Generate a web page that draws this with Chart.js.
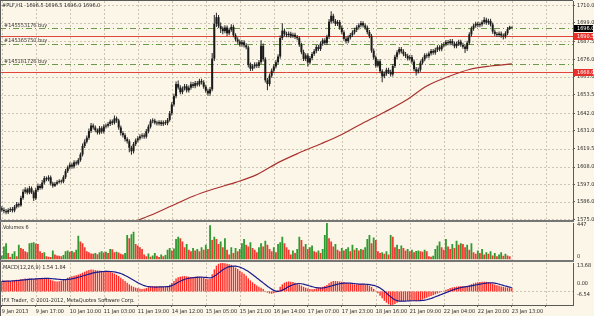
<!DOCTYPE html>
<html><head><meta charset="utf-8">
<script src="https://cdn.jsdelivr.net/npm/chart.js@4.4.1/dist/chart.umd.min.js"></script>
<style>
html,body{margin:0;padding:0;background:#fcf6e8;}
#wrap{position:relative;width:594px;height:316px;overflow:hidden;background:#fcf6e8;}
canvas{position:absolute;left:0;}
</style></head><body>
<div id="wrap">
<canvas id="cMain" width="594" height="222" style="top:0px"></canvas>
<canvas id="cVol" width="594" height="40" style="top:222px"></canvas>
<canvas id="cMacd" width="594" height="54" style="top:262px"></canvas>
</div>
<script>
// ---------- DATA ----------
const symbolTitle = '#PLF,H1';
const xTickLabels = ['9 Jan 2013','9 Jan 17:00','10 Jan 10:00','11 Jan 03:00','11 Jan 19:00','14 Jan 12:00','15 Jan 05:00','15 Jan 21:00','16 Jan 14:00','17 Jan 07:00','17 Jan 23:00','18 Jan 16:00','21 Jan 09:00','22 Jan 04:00','22 Jan 20:00','23 Jan 13:00'];
const xTickBars = [0,16,32,48,64,80,96,112,128,144,160,176,192,208,224,240,256];
const priceTicks = [1710.0,1699.0,1687.5,1676.0,1665.0,1653.5,1642.0,1631.0,1619.5,1608.0,1597.0,1586.0,1575.0];
const volTickLabels = ['447','0'];
const macdTickLabels = ['13.68','0.00','-6.54'];

const opens = [
1582.0,1581.0,1580.2,1579.5,1580.8,1581.5,1580.6,1582.9,1584.6,1583.8,
1588.5,1592.4,1593.8,1591.9,1594.6,1592.0,1588.3,1593.5,1596.1,1594.8,
1598.2,1601.0,1600.2,1601.5,1597.6,1596.2,1597.4,1598.5,1599.1,1598.8,
1601.6,1605.4,1607.8,1609.5,1608.3,1611.0,1610.2,1612.4,1615.9,1621.3,
1624.0,1626.5,1630.8,1634.2,1633.0,1631.2,1629.8,1632.5,1630.4,1633.6,
1634.1,1635.2,1636.8,1635.9,1638.7,1637.4,1633.0,1629.5,1628.1,1625.6,
1624.3,1620.2,1618.0,1622.5,1624.8,1626.1,1627.4,1628.0,1627.2,1630.6,
1633.5,1636.9,1637.3,1636.0,1635.5,1636.4,1635.1,1636.2,1635.7,1637.8,
1641.9,1647.5,1652.8,1660.4,1658.2,1655.3,1657.6,1659.0,1656.4,1658.1,
1660.3,1659.2,1661.0,1660.1,1662.4,1661.5,1658.7,1656.2,1654.5,1657.1,
1676.5,1698.4,1702.6,1697.0,1695.3,1693.8,1696.1,1692.4,1694.7,1696.5,
1691.2,1688.6,1687.3,1685.4,1686.8,1684.9,1683.6,1672.5,1670.1,1671.6,
1672.8,1671.9,1674.2,1684.6,1676.0,1662.8,1660.4,1665.7,1668.9,1671.5,
1674.2,1677.8,1689.5,1694.1,1692.0,1691.3,1692.2,1690.8,1691.5,1690.1,
1689.4,1685.2,1680.6,1676.3,1678.5,1674.0,1676.8,1679.4,1681.2,1683.8,
1682.5,1685.9,1688.0,1686.4,1690.2,1699.8,1703.5,1700.2,1698.4,1699.6,
1696.0,1693.1,1689.0,1687.5,1689.8,1691.4,1693.0,1694.6,1696.2,1697.5,
1698.9,1697.4,1696.0,1693.2,1690.7,1681.5,1677.2,1672.0,1674.8,1668.5,
1665.3,1667.0,1669.4,1668.1,1666.5,1671.8,1677.6,1680.4,1682.5,1681.0,
1679.3,1678.2,1676.5,1677.4,1674.6,1669.8,1668.3,1669.5,1673.9,1676.1,
1678.6,1678.0,1679.7,1681.3,1680.2,1682.0,1683.6,1682.4,1684.8,1685.5,
1686.9,1686.2,1687.5,1686.0,1684.3,1685.8,1687.1,1685.2,1684.0,1682.6,
1686.5,1691.8,1695.4,1697.2,1698.5,1697.6,1698.1,1699.4,1701.0,1699.2,
1700.3,1698.0,1693.5,1692.0,1691.4,1692.3,1691.0,1690.4,1692.5,1695.2,
1696.5];
const highs = [
1583.2,1582.4,1581.5,1582.0,1582.6,1582.8,1584.1,1586.0,1585.7,1589.9,
1594.0,1595.3,1595.0,1596.0,1595.8,1593.2,1594.9,1597.6,1597.3,1599.8,
1602.4,1602.0,1602.8,1602.6,1598.8,1598.6,1599.7,1600.3,1600.2,1602.9,
1606.8,1609.0,1610.9,1610.8,1612.3,1612.2,1613.7,1617.2,1622.8,1625.6,
1628.0,1632.3,1635.8,1635.5,1634.3,1632.4,1633.9,1633.8,1635.0,1635.5,
1636.5,1638.0,1638.1,1640.6,1640.0,1638.5,1634.2,1630.8,1629.3,1626.9,
1625.6,1621.5,1623.8,1626.0,1627.5,1628.7,1629.4,1629.3,1632.0,1634.9,
1638.2,1638.8,1638.5,1637.3,1637.6,1637.6,1637.4,1637.5,1639.0,1643.4,
1649.0,1654.3,1662.0,1662.6,1659.6,1658.9,1660.5,1660.4,1659.5,1661.8,
1661.7,1662.3,1662.4,1663.8,1663.7,1662.8,1660.0,1657.5,1658.5,1680.0,
1704.0,1705.5,1704.0,1699.2,1696.7,1697.5,1697.4,1696.0,1698.2,1697.8,
1692.5,1690.0,1688.6,1688.2,1688.1,1686.2,1684.8,1674.0,1672.9,1674.1,
1674.2,1675.6,1688.0,1686.0,1677.3,1664.2,1667.0,1670.3,1672.8,1675.6,
1679.2,1691.0,1698.8,1695.5,1693.4,1693.6,1693.5,1692.8,1692.8,1691.4,
1690.8,1686.5,1682.0,1679.9,1679.8,1678.1,1680.7,1682.6,1685.1,1685.2,
1687.2,1689.4,1689.3,1691.6,1701.5,1706.3,1704.8,1701.5,1700.9,1700.9,
1697.3,1694.4,1690.3,1691.1,1692.7,1694.3,1695.9,1697.5,1698.8,1700.2,
1700.0,1698.7,1697.3,1694.5,1692.0,1682.8,1678.5,1676.1,1676.0,1669.8,
1668.3,1670.7,1670.7,1669.4,1673.1,1678.9,1681.7,1683.8,1683.8,1682.3,
1680.6,1679.5,1678.7,1678.7,1675.9,1671.1,1670.8,1675.2,1677.4,1679.9,
1679.9,1681.0,1682.6,1682.6,1683.3,1684.9,1684.9,1686.1,1686.8,1688.2,
1688.2,1688.8,1688.8,1687.3,1687.1,1688.4,1688.4,1686.5,1685.3,1687.8,
1693.1,1696.7,1698.5,1699.8,1699.8,1699.4,1700.7,1702.8,1702.3,1701.6,
1701.6,1699.3,1694.8,1693.3,1693.6,1693.6,1692.3,1693.8,1696.5,1697.2,
1696.5];
const lows = [
1579.8,1578.9,1578.2,1578.4,1579.6,1579.3,1579.5,1581.8,1582.5,1582.9,
1587.4,1591.1,1590.6,1590.8,1591.0,1586.6,1587.2,1592.4,1593.6,1593.9,
1597.0,1599.0,1599.1,1596.4,1594.9,1595.4,1596.5,1597.6,1597.7,1597.8,
1600.5,1604.2,1606.6,1607.0,1607.1,1609.0,1609.1,1611.3,1614.6,1620.0,
1622.8,1625.3,1629.5,1631.7,1629.9,1628.5,1628.6,1629.1,1629.2,1632.4,
1632.9,1634.0,1634.6,1634.8,1636.0,1631.6,1628.0,1626.7,1624.2,1622.8,
1617.4,1615.8,1616.6,1621.3,1623.5,1624.9,1626.1,1625.9,1626.0,1629.3,
1632.3,1635.7,1634.8,1634.2,1634.3,1633.9,1633.9,1634.5,1634.4,1636.6,
1640.6,1646.2,1651.5,1656.9,1653.9,1654.0,1656.3,1655.0,1655.1,1656.8,
1657.9,1657.8,1658.8,1658.9,1660.2,1657.4,1654.9,1653.1,1653.0,1655.8,
1675.0,1696.5,1695.8,1692.6,1691.9,1692.5,1690.8,1691.2,1693.5,1689.9,
1687.2,1685.9,1684.1,1684.0,1683.5,1682.3,1670.9,1668.6,1668.8,1670.3,
1670.5,1670.6,1673.0,1674.7,1661.4,1656.5,1659.0,1664.4,1667.6,1670.2,
1672.9,1676.4,1688.2,1690.6,1689.9,1690.0,1689.5,1689.6,1688.8,1688.1,
1683.9,1679.3,1674.9,1675.0,1671.5,1672.8,1675.5,1678.1,1679.9,1681.2,
1681.2,1684.6,1685.1,1685.0,1688.9,1698.5,1698.9,1697.1,1697.1,1694.7,
1691.8,1687.7,1686.0,1686.2,1688.5,1690.1,1691.7,1693.3,1694.9,1696.2,
1696.1,1694.7,1691.9,1689.4,1680.2,1675.9,1670.7,1670.8,1667.2,1661.5,
1664.0,1665.7,1666.8,1665.2,1665.2,1670.5,1676.3,1679.1,1679.7,1678.0,
1676.9,1675.2,1675.2,1673.3,1668.5,1665.8,1667.0,1668.2,1672.6,1674.8,
1676.7,1676.7,1678.4,1678.9,1678.9,1680.7,1681.1,1681.1,1683.5,1684.2,
1684.9,1684.9,1684.7,1683.0,1683.0,1684.5,1683.9,1682.7,1680.0,1681.3,
1685.2,1690.5,1694.1,1695.9,1696.3,1696.3,1696.8,1698.1,1697.9,1697.9,
1696.7,1692.2,1690.7,1690.1,1690.1,1689.7,1688.5,1689.1,1691.2,1694.6,
1696.0];
const closes = [
1581.0,1580.2,1579.5,1580.8,1581.5,1580.6,1582.9,1584.6,1583.8,1588.5,
1592.4,1593.8,1591.9,1594.6,1592.0,1588.3,1593.5,1596.1,1594.8,1598.2,
1601.0,1600.2,1601.5,1597.6,1596.2,1597.4,1598.5,1599.1,1598.8,1601.6,
1605.4,1607.8,1609.5,1608.3,1611.0,1610.2,1612.4,1615.9,1621.3,1624.0,
1626.5,1630.8,1634.2,1633.0,1631.2,1629.8,1632.5,1630.4,1633.6,1634.1,
1635.2,1636.8,1635.9,1638.7,1637.4,1633.0,1629.5,1628.1,1625.6,1624.3,
1620.2,1618.0,1622.5,1624.8,1626.1,1627.4,1628.0,1627.2,1630.6,1633.5,
1636.9,1637.3,1636.0,1635.5,1636.4,1635.1,1636.2,1635.7,1637.8,1641.9,
1647.5,1652.8,1660.4,1658.2,1655.3,1657.6,1659.0,1656.4,1658.1,1660.3,
1659.2,1661.0,1660.1,1662.4,1661.5,1658.7,1656.2,1654.5,1657.1,1676.5,
1698.4,1702.6,1697.0,1695.3,1693.8,1696.1,1692.4,1694.7,1696.5,1691.2,
1688.6,1687.3,1685.4,1686.8,1684.9,1683.6,1672.5,1670.1,1671.6,1672.8,
1671.9,1674.2,1684.6,1676.0,1662.8,1660.4,1665.7,1668.9,1671.5,1674.2,
1677.8,1689.5,1694.1,1692.0,1691.3,1692.2,1690.8,1691.5,1690.1,1689.4,
1685.2,1680.6,1676.3,1678.5,1674.0,1676.8,1679.4,1681.2,1683.8,1682.5,
1685.9,1688.0,1686.4,1690.2,1699.8,1703.5,1700.2,1698.4,1699.6,1696.0,
1693.1,1689.0,1687.5,1689.8,1691.4,1693.0,1694.6,1696.2,1697.5,1698.9,
1697.4,1696.0,1693.2,1690.7,1681.5,1677.2,1672.0,1674.8,1668.5,1665.3,
1667.0,1669.4,1668.1,1666.5,1671.8,1677.6,1680.4,1682.5,1681.0,1679.3,
1678.2,1676.5,1677.4,1674.6,1669.8,1668.3,1669.5,1673.9,1676.1,1678.6,
1678.0,1679.7,1681.3,1680.2,1682.0,1683.6,1682.4,1684.8,1685.5,1686.9,
1686.2,1687.5,1686.0,1684.3,1685.8,1687.1,1685.2,1684.0,1682.6,1686.5,
1691.8,1695.4,1697.2,1698.5,1697.6,1698.1,1699.4,1701.0,1699.2,1700.3,
1698.0,1693.5,1692.0,1691.4,1692.3,1691.0,1690.4,1692.5,1695.2,1696.5,
1696.0];

// 200-period moving average, read at sampled bars
const maBars   = [62,70,80,90,100,110,120,130,140,150,160,170,180,190,200,210,220,230,240];
const maValues = [1573.4,1577.6,1583.6,1589.6,1594.3,1598.3,1603.2,1610.8,1617.0,1622.6,1628.6,1635.8,1642.6,1650.0,1659.2,1665.0,1669.6,1671.8,1673.1];

// order / stop levels
const orderLevels = [1695.7,1685.7,1672.9];
const orderTexts = ['#145553176 buy','#145365750 buy','#145181726 buy'];
const stopLevels = [1690.5,1668.0];
const bidLevel = 1696.0;

const volumes = [
50,160,200,80,30,70,100,40,180,140,
130,100,90,200,205,210,195,190,100,80,
90,40,35,30,110,60,50,45,40,55,
100,110,95,105,90,120,290,220,200,150,
100,90,75,70,80,65,90,100,85,95,
80,130,125,90,95,85,70,60,80,300,
260,310,340,190,170,150,130,60,40,75,
35,50,80,45,30,60,40,55,120,140,
110,135,250,280,260,220,150,190,120,100,
140,110,130,100,150,120,180,130,420,240,
280,250,190,220,150,260,120,60,150,80,
140,100,130,200,250,180,160,210,140,120,
90,150,200,160,230,180,130,100,150,90,
190,210,280,200,150,120,60,110,80,130,
280,240,160,190,130,150,170,100,90,110,
80,130,300,447,260,220,160,190,120,100,
140,110,130,150,100,180,120,140,110,130,
120,150,250,300,200,270,240,100,80,90,
70,100,60,300,280,150,180,130,170,140,
110,130,100,120,90,105,110,100,95,120,
100,40,35,45,130,170,220,150,120,250,
160,130,190,140,230,180,200,190,150,180,
120,200,90,70,110,80,130,60,90,70,
100,50,80,40,60,90,45,70,50,40,
6];

const macdMain = [
5.0,5.2,5.3,5.1,5.0,5.2,5.4,5.6,5.5,5.8,6.0,6.2,6.1,6.3,6.2,5.9,
6.3,6.5,6.4,6.6,6.5,6.3,6.0,5.6,5.2,4.9,4.8,4.9,5.1,5.5,
6.0,6.6,7.0,7.3,7.6,7.8,8.1,8.5,9.0,
9.5,9.9,10.3,10.5,10.4,10.2,10.1,10.0,9.9,9.8,9.9,9.7,9.4,
9.0,8.6,8.0,7.4,6.6,5.8,5.0,4.2,
3.4,2.7,2.2,1.8,1.5,1.3,1.2,1.3,
1.6,2.0,2.3,2.4,2.5,2.5,2.4,2.4,2.3,2.4,2.6,3.2,
4.0,5.0,6.2,6.8,7.1,
7.3,7.4,7.2,7.1,7.0,7.0,7.1,7.2,7.0,6.8,6.5,6.1,5.8,
6.0,8.3,10.6,12.4,13.3,
13.6,13.68,13.5,13.3,13.1,12.8,
12.2,11.5,10.8,10.0,9.2,8.5,7.5,6.3,
5.3,4.4,3.6,2.9,2.3,1.8,1.2,
0.2,-0.6,-1.0,-1.1,-0.9,-0.5,
0.6,2.2,3.4,4.2,4.6,4.8,4.7,
4.5,4.2,3.9,3.4,
2.8,2.2,1.8,1.4,1.2,1.1,1.2,1.4,1.6,1.9,2.2,
2.6,3.1,3.9,4.7,5.0,5.0,4.9,4.8,4.6,4.4,4.2,
3.9,3.7,3.5,3.4,3.4,3.5,3.6,3.6,3.4,3.1,2.7,2.1,1.2,0.3,
-0.9,-2.1,-3.3,-4.5,-5.4,-6.2,-6.54,
-6.4,-6.0,-5.4,-5.0,-4.8,-4.6,-4.5,-4.4,
-4.3,-4.4,-4.6,-4.7,-4.5,-4.2,-3.8,-3.4,-3.0,-2.6,-2.2,-1.8,-1.4,-1.0,-0.6,
-0.2,0.3,0.8,1.2,1.6,1.9,2.1,2.3,
2.4,2.5,2.5,2.4,2.6,3.0,3.5,3.9,4.2,4.4,4.5,
4.6,4.7,4.6,4.4,4.1,3.7,3.3,
3.0,2.7,2.4,2.2,2.0,1.8,1.6,1.54];
const macdSignal = [
4.8,4.85,4.9,4.95,5.0,5.05,5.1,5.2,5.3,5.4,5.5,5.6,5.7,5.8,5.9,5.95,
6.0,6.1,6.15,6.2,6.25,6.3,6.3,6.2,6.1,6.0,5.9,5.8,5.7,5.65,
5.7,5.8,5.9,6.1,6.3,6.5,6.8,7.1,7.4,
7.7,8.0,8.3,8.6,8.9,9.1,9.3,9.45,9.55,9.6,9.65,9.65,9.6,
9.5,9.4,9.2,8.9,8.6,8.2,7.7,7.2,
6.6,6.0,5.4,4.8,4.2,3.7,3.2,2.8,
2.5,2.3,2.2,2.15,2.1,2.1,2.15,2.2,2.2,2.25,2.3,2.45,
2.8,3.2,3.8,4.4,4.9,
5.4,5.8,6.1,6.3,6.5,6.6,6.7,6.8,6.85,6.85,6.8,6.75,6.6,
6.5,6.7,7.3,8.0,8.8,
9.6,10.4,11.0,11.5,11.9,12.1,
12.2,12.15,12.0,11.7,11.3,10.8,10.2,9.6,
8.9,8.1,7.3,6.5,5.7,4.9,4.1,
3.3,2.5,1.8,1.1,0.5,0.1,
0.0,0.2,0.6,1.1,1.7,2.3,2.8,
3.2,3.5,3.7,3.8,
3.7,3.5,3.2,2.9,2.6,2.3,2.0,1.8,1.7,1.6,1.65,
1.8,2.0,2.3,2.6,2.9,3.2,3.5,3.7,3.85,3.95,4.0,
4.0,3.95,3.85,3.75,3.65,3.55,3.5,3.5,3.45,3.4,3.3,3.1,2.9,2.6,
2.2,1.6,0.9,0.1,-0.8,-1.7,-2.6,
-3.4,-4.0,-4.4,-4.6,-4.7,-4.7,-4.65,-4.6,
-4.55,-4.5,-4.5,-4.5,-4.5,-4.45,-4.35,-4.2,-4.0,-3.7,-3.4,-3.0,-2.6,-2.2,-1.8,
-1.4,-1.0,-0.6,-0.2,0.2,0.6,1.0,1.3,
1.6,1.85,2.05,2.2,2.35,2.5,2.7,2.9,3.1,3.3,3.5,
3.7,3.85,4.0,4.1,4.15,4.1,4.0,
3.8,3.5,3.2,2.9,2.6,2.3,2.05,1.84];

// ---------- STYLE ----------
const FONT = "'Liberation Sans Narrow','DejaVu Sans Condensed','Liberation Sans',sans-serif";
const FS = 5.5;
const TXT = '#2a2a2a';
const GRID = '#cdc4b2';
const FRAME = '#5a5a5a';
const SEP = '#767676';
const AXIS_W = 21;
const X_MIN = -0.85, X_MAX = 268.8;

const N = closes.length;
const idx = closes.map((_, i) => i);

function xScaleCfg(show) {
  return {
    type: 'linear', min: X_MIN, max: X_MAX, offset: false, display: show,
    afterBuildTicks: s => { s.ticks = xTickBars.map(v => ({ value: v })); },
    afterFit: s => { s.height = show ? 11 : 0; s.paddingLeft = 0; s.paddingRight = 0; },
    grid: { display: show, offset: false, drawOnChartArea: false, drawTicks: true, tickLength: 2, tickColor: FRAME },
    border: { display: show, color: FRAME },
    ticks: { display: show, autoSkip: false, maxRotation: 0, minRotation: 0, align: 'start', padding: 1,
      font: { family: FONT, size: FS }, color: TXT,
      callback: (v, i) => (xTickLabels[i] !== undefined ? xTickLabels[i] : '') }
  };
}
function yScaleCfg(min, max, ticksArr, showLabels) {
  return {
    position: 'right', min, max,
    afterBuildTicks: s => { s.ticks = ticksArr.map(v => ({ value: v })); },
    afterFit: s => { s.width = AXIS_W; s.paddingTop = 0; s.paddingBottom = 0; },
    grid: { display: showLabels, drawOnChartArea: false, drawTicks: true, tickLength: 2, tickColor: FRAME },
    border: { display: true, color: FRAME },
    ticks: { display: showLabels, autoSkip: false, padding: 2, font: { family: FONT, size: FS }, color: TXT,
      callback: v => Number(v).toFixed(1) }
  };
}
function vGrid(chart) {
  const { ctx, chartArea: a, scales } = chart;
  ctx.save();
  ctx.strokeStyle = GRID; ctx.lineWidth = 1; ctx.setLineDash([2, 2]);
  ctx.beginPath();
  xTickBars.forEach(b => {
    const x = Math.round(scales.x.getPixelForValue(b)) + 0.5;
    if (x < a.left || x > a.right) return;
    ctx.moveTo(x, a.top); ctx.lineTo(x, a.bottom);
  });
  ctx.stroke(); ctx.restore();
}
function hLine(chart, value, color, dash, width) {
  const { ctx, chartArea: a, scales } = chart;
  const y = Math.round(scales.y.getPixelForValue(value)) + 0.5;
  ctx.save(); ctx.strokeStyle = color; ctx.lineWidth = width || 1; ctx.setLineDash(dash || []);
  ctx.beginPath(); ctx.moveTo(a.left, y); ctx.lineTo(a.right, y); ctx.stroke(); ctx.restore();
}
function text(ctx, s, x, y, color, align) {
  ctx.save(); ctx.font = FS + 'px ' + FONT; ctx.fillStyle = color || TXT;
  ctx.textBaseline = 'middle'; ctx.textAlign = align || 'left'; ctx.fillText(s, x, y); ctx.restore();
}
function frame(chart, top, bottomSep) {
  const { ctx, chartArea: a } = chart;
  ctx.save(); ctx.fillStyle = FRAME;
  ctx.fillRect(0, 0, 1, chart.height);
  if (top) ctx.fillRect(0, 0, a.right, 1);
  if (bottomSep) { ctx.fillStyle = SEP; ctx.fillRect(0, chart.height - 2, a.right + 1, 2); }
  ctx.restore();
}

const common = {
  responsive: false, animation: false, devicePixelRatio: 1, events: [],
  plugins: { legend: { display: false }, tooltip: { enabled: false } }
};

// ---------- MAIN PRICE PANE ----------
const Y_MAX = 1712.84, Y_MIN = 1574.58;
const mainPlugin = {
  id: 'mainPane',
  beforeDatasetsDraw(chart) {
    vGrid(chart);
    priceTicks.forEach(v => hLine(chart, v, GRID, [2, 2]));
    orderLevels.forEach(v => hLine(chart, v, '#6a9a4a', [6, 3, 1, 3], 1));
    stopLevels.forEach(v => hLine(chart, v, '#e0463c', [], 1));
  },
  afterDraw(chart) {
    const { ctx, chartArea: a, scales } = chart;
    const L = N - 1;
    text(ctx, symbolTitle + '  ' + opens[L].toFixed(1) + ' ' + highs[L].toFixed(1) + ' ' + lows[L].toFixed(1) + ' ' + closes[L].toFixed(1), 2, 6);
    orderLevels.forEach((v, k) => text(ctx, orderTexts[k], 4, scales.y.getPixelForValue(v) - 3, '#3a3a3a'));
    const boxes = [[bidLevel, '#000000'], [stopLevels[0], '#e8302a'], [stopLevels[1], '#e8302a']];
    boxes.forEach(([v, col]) => {
      const y = scales.y.getPixelForValue(v);
      ctx.fillStyle = col; ctx.fillRect(a.right + 1, Math.round(y) - 3, 19, 7);
      text(ctx, v.toFixed(1), a.right + 4, y + 0.5, '#ffffff');
    });
    frame(chart, true, true);
  }
};
new Chart(document.getElementById('cMain'), {
  type: 'bar',
  data: { datasets: [
    { type: 'line', data: maBars.map((b, k) => ({ x: b, y: maValues[k] })), borderColor: '#a8322e', borderWidth: 1.2,
      pointRadius: 0, cubicInterpolationMode: 'monotone', fill: false },
    { data: idx.map(i => ({ x: i, y: [Math.min(opens[i], closes[i]), Math.max(opens[i], closes[i])] })),
      backgroundColor: '#1a1a1a', barThickness: 2, minBarLength: 1, grouped: false, inflateAmount: 0, borderWidth: 0 },
    { data: idx.map(i => ({ x: i, y: [lows[i], highs[i]] })),
      backgroundColor: '#262626', barThickness: 1, grouped: false, inflateAmount: 0, borderWidth: 0 }
  ] },
  options: Object.assign({}, common, {
    layout: { padding: { top: 1, bottom: 2, left: 0, right: 0 } },
    scales: { x: xScaleCfg(false), y: yScaleCfg(Y_MIN, Y_MAX, priceTicks, true) }
  }),
  plugins: [mainPlugin]
});

// ---------- VOLUME PANE ----------
const volPlugin = {
  id: 'volPane',
  beforeDatasetsDraw(chart) { vGrid(chart); },
  afterDraw(chart) {
    const { ctx, chartArea: a } = chart;
    text(ctx, 'Volumes ' + volumes[N - 1], 3, a.top + 5);
    text(ctx, volTickLabels[0], a.right + 4, a.top + 1.5);
    text(ctx, volTickLabels[1], a.right + 4, a.bottom - 2.5);
    frame(chart, false, true);
  }
};
new Chart(document.getElementById('cVol'), {
  type: 'bar',
  data: { datasets: [
    { data: idx.map(i => ({ x: i, y: volumes[i] })),
      backgroundColor: idx.map(i => (i === 0 || volumes[i] > volumes[i - 1]) ? '#2f9a2f' : '#f03a30'),
      barThickness: 1.8, grouped: false, inflateAmount: 0, borderWidth: 0 }
  ] },
  options: Object.assign({}, common, {
    layout: { padding: { top: 1, bottom: 2.5, left: 0, right: 0 } },
    scales: { x: xScaleCfg(false), y: yScaleCfg(0, 447, [447, 0], false) }
  }),
  plugins: [volPlugin]
});

// ---------- MACD PANE ----------
const macdPlugin = {
  id: 'macdPane',
  beforeDatasetsDraw(chart) { vGrid(chart); hLine(chart, 0, GRID, [2, 2]); },
  afterDraw(chart) {
    const { ctx, chartArea: a, scales } = chart;
    text(ctx, 'MACD(12,26,9) ' + macdMain[N - 1].toFixed(2) + ' ' + macdSignal[N - 1].toFixed(2), 3, a.top + 4.5);
    text(ctx, 'IFX Trader, \u00a9 2001-2012, MetaQuotes Software Corp.', 2, a.bottom - 4.5);
    text(ctx, macdTickLabels[0], a.right + 4, a.top + 2.7);
    text(ctx, macdTickLabels[1], a.right + 4, scales.y.getPixelForValue(0) - 8);
    text(ctx, macdTickLabels[2], a.right + 4, a.bottom - 10.5);
    frame(chart, false, false);
  }
};
new Chart(document.getElementById('cMacd'), {
  type: 'bar',
  data: { datasets: [
    { type: 'line', data: idx.map(i => ({ x: i, y: macdSignal[i] })), borderColor: '#1c1c8c', borderWidth: 1.2,
      pointRadius: 0, tension: 0.2, fill: false },
    { data: idx.map(i => ({ x: i, y: macdMain[i] })), backgroundColor: '#ff2a24',
      barThickness: 1.4, grouped: false, inflateAmount: 0, borderWidth: 0 }
  ] },
  options: Object.assign({}, common, {
    layout: { padding: { top: 1, bottom: 0, left: 0, right: 0 } },
    scales: { x: xScaleCfg(true), y: yScaleCfg(-6.54, 13.68, [13.68, 0, -6.54], false) }
  }),
  plugins: [macdPlugin]
});

const lens = { opens: opens.length, highs: highs.length, lows: lows.length, closes: closes.length,
  volumes: volumes.length, macdMain: macdMain.length, macdSignal: macdSignal.length };
if (Object.values(lens).some(v => v !== 241)) throw new Error('Length mismatch: ' + JSON.stringify(lens));
</script>
</body></html>
